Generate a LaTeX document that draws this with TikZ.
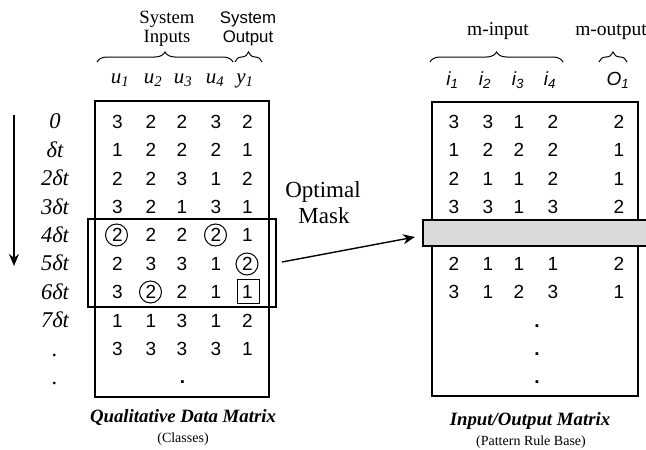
\documentclass[tikz,border=0pt]{standalone}
\usepackage{fontspec}
\setmainfont{Liberation Serif}
\setsansfont{Liberation Sans}
\usetikzlibrary{decorations.pathreplacing,arrows.meta,calc}
\definecolor{barfill}{RGB}{218,218,218}
\begin{document}
\begin{tikzpicture}[x=1pt,y=-1pt,
  num/.style={font=\sffamily\fontsize{19}{19}\selectfont,anchor=base,inner sep=0pt},
  dotnum/.style={font=\sffamily\bfseries\fontsize{19}{19}\selectfont,anchor=base,inner sep=0pt},
  tlab/.style={font=\itshape\fontsize{22.5}{22.5}\selectfont,anchor=base,inner sep=0pt},
  uhdr/.style={font=\itshape\fontsize{21}{21}\selectfont,anchor=base,inner sep=0pt},
  ihdr/.style={font=\sffamily\itshape\fontsize{19}{19}\selectfont,anchor=base,inner sep=0pt},
  grp/.style={font=\fontsize{18.7}{18.7}\selectfont,anchor=base,inner sep=0pt},
  sgrp/.style={font=\sffamily\fontsize{16.8}{16.8}\selectfont,anchor=base,inner sep=0pt},
  mgrp/.style={font=\fontsize{19.5}{19.5}\selectfont,anchor=base,inner sep=0pt},
  optxt/.style={font=\fontsize{23}{23}\selectfont,anchor=base,inner sep=0pt},
  bigcap/.style={font=\bfseries\itshape\fontsize{18.8}{18.8}\selectfont,anchor=base,inner sep=0pt},
  smallcap/.style={font=\fontsize{14}{14}\selectfont,anchor=base,inner sep=0pt},
  box/.style={draw,line width=1.4pt,rectangle,inner sep=0pt,outer sep=0pt},
  ring/.style={draw,circle,line width=1pt,minimum size=22pt,inner sep=0pt},
  sqr/.style={draw,rectangle,line width=1pt,minimum width=22pt,minimum height=24pt,inner sep=0pt},
  brc/.style={decorate,decoration={brace,amplitude=10pt},line width=1pt},
  arr/.style={line width=1.4pt,-{Stealth[length=12pt,width=10pt]}}
]
\useasboundingbox (0,0) rectangle (646,450);

% ---------- left part ----------
\node[box,minimum width=174pt,minimum height=296pt] (lbox) at (182,249) {};
\node[box,minimum width=188pt,minimum height=88pt] (mask) at (182,263) {};

% header texts
\node[grp] (sysin1) at (167,23) {System};
\node[grp] (sysin2) at (167,42) {Inputs};
\node[sgrp] (sysout1) at (248,23) {System};
\node[sgrp] (sysout2) at (248,42) {Output};
\draw[brc] (97,62) -- (233,62);
\draw[brc] (235,62) -- (262,62);

% column headers
\node[uhdr] (hu1) at (120,83) {u\textsubscript{1}};
\node[uhdr] (hu2) at (153,83) {u\textsubscript{2}};
\node[uhdr] (hu3) at (183,83) {u\textsubscript{3}};
\node[uhdr] (hu4) at (215,83) {u\textsubscript{4}};
\node[uhdr] (hy1) at (245,83) {y\textsubscript{1}};

% time labels
\foreach \r/\t in {0/0,1/δt,2/2δt,3/3δt,4/4δt,5/5δt,6/6δt,7/7δt,8/.,9/.}{
  \node[tlab] (t\r) at (55,{121.5+28.4*\r+7.3}) {\t};
}
% time arrow
\coordinate (tarrs) at (14,115);
\coordinate (tarre) at (14,266);
\draw[arr] (tarrs) -- (tarre);

% left data
\foreach \r/\a/\b/\c/\d/\e in {0/3/2/2/3/2,1/1/2/2/2/1,2/2/2/3/1/2,3/3/2/1/3/1,4/2/2/2/2/1,5/2/3/3/1/2,6/3/2/2/1/1,7/1/1/3/1/2,8/3/3/3/3/1}{
  \node[num] (L\r a) at (117.5,{121.5+28.4*\r+6.8}) {\a};
  \node[num] (L\r b) at (151,{121.5+28.4*\r+6.8}) {\b};
  \node[num] (L\r c) at (182,{121.5+28.4*\r+6.8}) {\c};
  \node[num] (L\r d) at (216,{121.5+28.4*\r+6.8}) {\d};
  \node[num] (L\r e) at (247.5,{121.5+28.4*\r+6.8}) {\e};
}
\node[dotnum] (Ldots) at (182.5,{121.5+28.4*9+6.8}) {.};

% circles and square
\node[ring] (c1) at (116.5,235) {};
\node[ring] (c2) at (215.5,235) {};
\node[ring] (c3) at (247,264) {};
\node[ring] (c4) at (150.5,292) {};
\node[sqr] (s1) at (248,291) {};

% Optimal Mask
\node[optxt] (opt1) at (323,197) {Optimal};
\node[optxt] (opt2) at (324,223) {Mask};

% captions left
\node[bigcap] (capL) at (183,422) {Qualitative Data Matrix};
\node[smallcap] (capL2) at (183,442) {(Classes)};

% ---------- right part ----------
\node[box,minimum width=206pt,minimum height=294pt] (rbox) at (535,249) {};
\node[draw,line width=1.2pt,fill=barfill,minimum width=230pt,minimum height=26pt,inner sep=0pt,outer sep=0pt] (bar) at (538,233) {};

\node[mgrp] (minp) at (498,35) {m-input};
\node[mgrp] (mout) at (611,35) {m-output};
\draw[brc] (430,62) -- (563,62);
\draw[brc] (599,62) -- (627,62);

\node[ihdr] (hi1) at (452.5,85) {i\textsubscript{1}};
\node[ihdr] (hi2) at (485,85) {i\textsubscript{2}};
\node[ihdr] (hi3) at (518,85) {i\textsubscript{3}};
\node[ihdr] (hi4) at (550,85) {i\textsubscript{4}};
\node[ihdr] (ho1) at (618,85) {O\textsubscript{1}};

\foreach \r/\a/\b/\c/\d/\e in {0/3/3/1/2/2,1/1/2/2/2/1,2/2/1/1/2/1,3/3/3/1/3/2,5/2/1/1/1/2,6/3/1/2/3/1}{
  \node[num] (R\r a) at (454,{121.5+28.4*\r+6.8}) {\a};
  \node[num] (R\r b) at (488,{121.5+28.4*\r+6.8}) {\b};
  \node[num] (R\r c) at (519,{121.5+28.4*\r+6.8}) {\c};
  \node[num] (R\r d) at (553,{121.5+28.4*\r+6.8}) {\d};
  \node[num] (R\r e) at (619,{121.5+28.4*\r+6.8}) {\e};
}
\foreach \r in {7,8,9}{
  \node[dotnum] (Rdot\r) at (537,{121.5+28.4*\r+6.8}) {.};
}

\node[bigcap] (capR) at (530,425) {Input/Output Matrix};
\node[smallcap] (capR2) at (531,445) {(Pattern Rule Base)};

% connector
\draw[arr] ($(mask.east)+(6,-1)$) -- ($(bar.west)+(-8,4)$);
\end{tikzpicture}
\end{document}
